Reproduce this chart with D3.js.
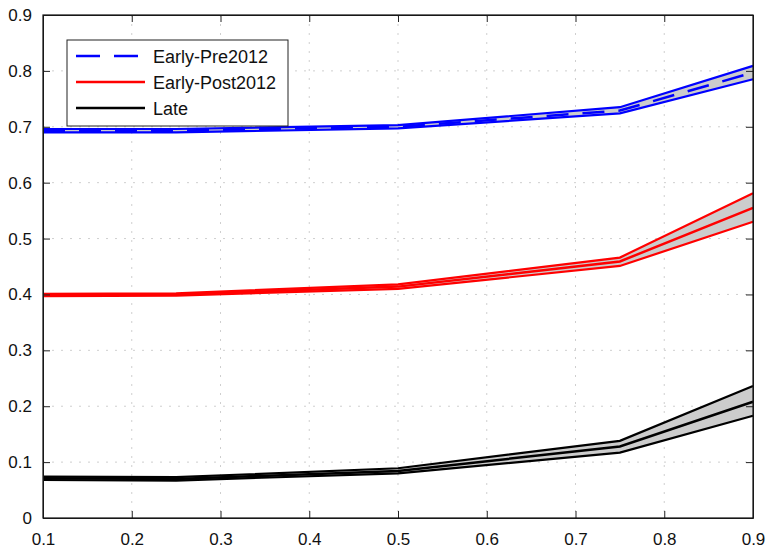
<!DOCTYPE html>
<html>
<head>
<meta charset="utf-8">
<script src="https://cdn.jsdelivr.net/npm/d3@7"></script>
<style>
  body { margin: 0; background: #fff; }
  svg { display: block; font-family: "Liberation Sans", Arial, sans-serif; }
  .grid line { stroke: #cfcfcf; stroke-dasharray: 2 7; }
  .axis text { font-size: 17px; fill: #111; }
  .axis path, .axis line { stroke: #222; }
</style>
</head>
<body>
<div id="chart"></div>
<script>
// x positions (quantiles)
var xs = [0.1, 0.25, 0.5, 0.75, 0.9];

// Early-Pre2012
var preMean  = [0.693, 0.693, 0.700, 0.729, 0.797];
var preUpper = [0.696, 0.696, 0.703, 0.735, 0.809];
var preLower = [0.690, 0.690, 0.697, 0.724, 0.785];

// Early-Post2012
var postMean  = [0.399, 0.400, 0.414, 0.459, 0.555];
var postUpper = [0.401, 0.402, 0.418, 0.466, 0.581];
var postLower = [0.397, 0.398, 0.410, 0.451, 0.530];

// Late
var lateMean  = [0.071, 0.070, 0.084, 0.128, 0.208];
var lateUpper = [0.074, 0.073, 0.089, 0.138, 0.236];
var lateLower = [0.068, 0.067, 0.080, 0.117, 0.183];

var xTicks = [0.1, 0.2, 0.3, 0.4, 0.5, 0.6, 0.7, 0.8, 0.9];
var yTicks = [0, 0.1, 0.2, 0.3, 0.4, 0.5, 0.6, 0.7, 0.8, 0.9];

var seriesNames = ["Early-Pre2012", "Early-Post2012", "Late"];
var seriesColors = ["#0000ff", "#ff0000", "#000000"];

var W = 766, H = 554
  , margin = {top: 15, right: 13, bottom: 36, left: 43}
  , width = W - margin.left - margin.right
  , height = H - margin.top - margin.bottom
;

var x = d3.scaleLinear().domain([0.1, 0.9]).range([0, width]);
var y = d3.scaleLinear().domain([0, 0.9]).range([height, 0]);

var svg = d3.select("#chart").append("svg")
    .attr("width", W)
    .attr("height", H);

var g = svg.append("g")
    .attr("transform", "translate(" + margin.left + "," + margin.top + ")");

// grid
var grid = g.append("g").attr("class", "grid");
grid.selectAll(".gx").data(xTicks.slice(1, -1)).enter().append("line")
    .attr("x1", function(d) { return x(d); }).attr("x2", function(d) { return x(d); })
    .attr("y1", 0).attr("y2", height);
grid.selectAll(".gy").data(yTicks.slice(1, -1)).enter().append("line")
    .attr("y1", function(d) { return y(d); }).attr("y2", function(d) { return y(d); })
    .attr("x1", 0).attr("x2", width);

var series = [
    {mean: preMean, upper: preUpper, lower: preLower, dashed: true},
    {mean: postMean, upper: postUpper, lower: postLower, dashed: false},
    {mean: lateMean, upper: lateUpper, lower: lateLower, dashed: false}
];

var area = d3.area()
    .x(function(d) { return x(d.x); })
    .y0(function(d) { return y(d.lo); })
    .y1(function(d) { return y(d.hi); });
var line = d3.line()
    .x(function(d) { return x(d[0]); })
    .y(function(d) { return y(d[1]); });

series.forEach(function(s, i) {
    var band = xs.map(function(v, j) { return {x: v, lo: s.lower[j], hi: s.upper[j]}; });
    g.append("path")
        .attr("d", area(band))
        .attr("fill", "#cccccc")
        .attr("stroke", "none");
    [s.upper, s.lower].forEach(function(arr) {
        g.append("path")
            .attr("d", line(d3.zip(xs, arr)))
            .attr("fill", "none")
            .attr("stroke", seriesColors[i])
            .attr("stroke-width", 2.2);
    });
    g.append("path")
        .attr("d", line(d3.zip(xs, s.mean)))
        .attr("fill", "none")
        .attr("stroke", seriesColors[i])
        .attr("stroke-width", 2.5)
        .attr("stroke-dasharray", s.dashed ? "22 14" : null);
});

// axes (ticks inward)
g.append("g")
    .attr("class", "axis")
    .attr("transform", "translate(0," + height + ")")
    .call(d3.axisBottom(x).tickValues(xTicks).tickSizeInner(-7).tickSizeOuter(0).tickPadding(15)
        .tickFormat(d3.format(".1f")));
g.append("g")
    .attr("class", "axis")
    .call(d3.axisLeft(y).tickValues(yTicks).tickSizeInner(-7).tickSizeOuter(0).tickPadding(11)
        .tickFormat(function(d) { return d === 0 ? "0" : d3.format(".1f")(d); }));
g.append("g")
    .attr("class", "axis")
    .call(d3.axisTop(x).tickValues(xTicks).tickSizeInner(-7).tickSizeOuter(0).tickFormat(""));
g.append("g")
    .attr("class", "axis")
    .attr("transform", "translate(" + width + ",0)")
    .call(d3.axisRight(y).tickValues(yTicks).tickSizeInner(-7).tickSizeOuter(0).tickFormat(""));

g.append("rect")
    .attr("width", width).attr("height", height)
    .attr("fill", "none").attr("stroke", "#111").attr("stroke-width", 1.2);

// legend
var legend = g.append("g").attr("transform", "translate(24,25)");
legend.append("rect")
    .attr("width", 221).attr("height", 86)
    .attr("fill", "#fff").attr("stroke", "#222").attr("stroke-width", 1);
seriesNames.forEach(function(name, i) {
    var ly = 16 + i * 26;
    legend.append("line")
        .attr("x1", 9).attr("x2", 78).attr("y1", ly).attr("y2", ly)
        .attr("stroke", seriesColors[i]).attr("stroke-width", 2.5)
        .attr("stroke-dasharray", i === 0 ? "24 14" : null);
    legend.append("text")
        .attr("x", 86).attr("y", ly + 7)
        .attr("font-size", 18).attr("fill", "#111")
        .text(name);
});
</script>
</body>
</html>
